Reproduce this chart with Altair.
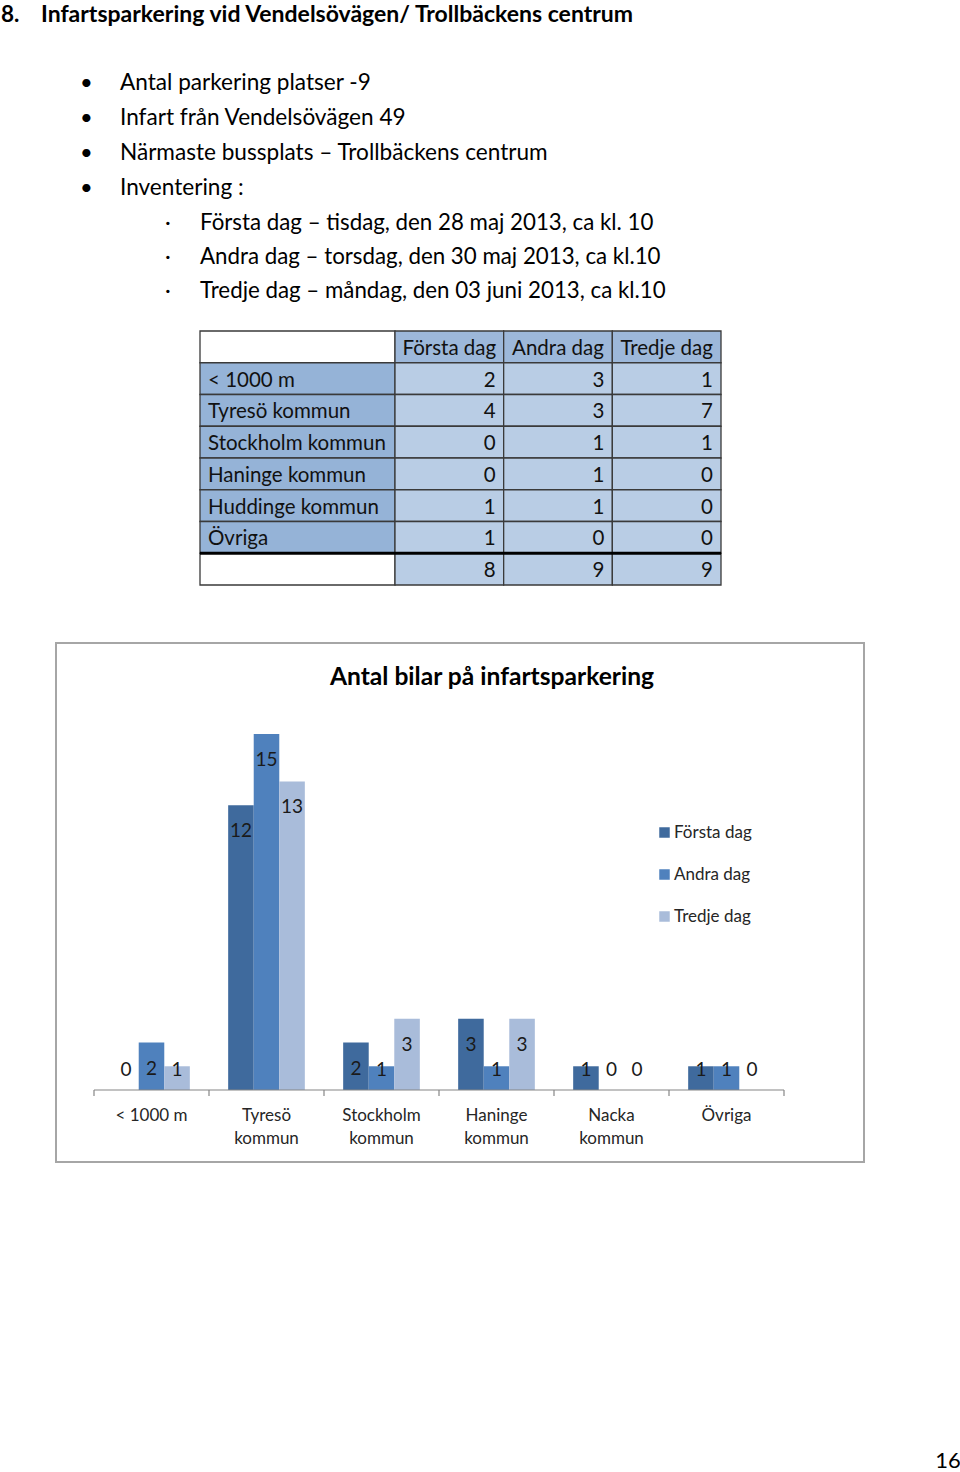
import altair as alt
import pandas as pd

FONT = "Lato"

# ---------------- data ----------------
heading_num = "8."
heading = "Infartsparkering vid Vendelsövägen/ Trollbäckens centrum"
bullets = [
    "Antal parkering platser -9",
    "Infart från Vendelsövägen 49",
    "Närmaste bussplats – Trollbäckens centrum",
    "Inventering :",
]
sub_bullets = [
    "Första dag – tisdag, den 28 maj 2013, ca kl. 10",
    "Andra dag – torsdag, den 30 maj 2013, ca kl.10",
    "Tredje dag – måndag, den 03 juni 2013, ca kl.10",
]

days = ["Första dag", "Andra dag", "Tredje dag"]
table_rows = ["< 1000 m", "Tyresö kommun", "Stockholm kommun",
              "Haninge kommun", "Huddinge kommun", "Övriga"]
table_forsta = [2, 4, 0, 0, 1, 1]
table_andra = [3, 3, 1, 1, 1, 0]
table_tredje = [1, 7, 1, 0, 0, 0]
table_totals = [8, 9, 9]

chart_title = "Antal bilar på infartsparkering"
categories = ["< 1000 m", "Tyresö kommun", "Stockholm kommun",
              "Haninge kommun", "Nacka kommun", "Övriga"]
category_labels = ["< 1000 m", "Tyresö\nkommun", "Stockholm\nkommun",
                   "Haninge\nkommun", "Nacka\nkommun", "Övriga"]
forsta = [0, 12, 2, 3, 1, 1]
andra = [2, 15, 1, 1, 0, 1]
tredje = [1, 13, 3, 3, 0, 0]
page_number = "16"

# ---------------- helpers ----------------
def text_at(s, x, y, size=22, weight="normal", align="left", color="#000000", baseline="middle"):
    return alt.Chart(pd.DataFrame({"t": [s]})).mark_text(
        align=align, baseline=baseline, font=FONT, fontSize=size,
        fontWeight=weight, color=color
    ).encode(x=alt.value(x), y=alt.value(y), text="t:N")

layers = []

# heading
layers.append(text_at(heading_num, 1, 22, size=22.5, weight="bold", baseline="alphabetic"))
layers.append(text_at(heading, 41, 22, size=23, weight="bold", baseline="alphabetic"))

# bullets
for i, b in enumerate(bullets):
    y = 82.5 + i * 35.3
    layers.append(text_at("•", 80, y, size=22))
    layers.append(text_at(b, 120, y, size=22.6))
for i, b in enumerate(sub_bullets):
    y = 222.5 + i * 34
    layers.append(text_at("·", 165, y, size=22))
    layers.append(text_at(b, 200, y, size=22.3))

# ---------------- table ----------------
row_keys = ["hdr"] + table_rows + ["tot"]
cols_vals = [table_forsta, table_andra, table_tredje]
cells = []
for j, d in enumerate(days):
    cells.append({"row": "hdr", "col": d, "kind": "head", "txt": d})
    for i, r in enumerate(table_rows):
        cells.append({"row": r, "col": d, "kind": "val", "txt": str(cols_vals[j][i])})
    cells.append({"row": "tot", "col": d, "kind": "tot", "txt": str(table_totals[j])})
cells_df = pd.DataFrame(cells)
labels_df = pd.DataFrame({
    "row": row_keys,
    "txt": [""] + table_rows + [""],
    "kind": ["blank"] + ["lab"] * len(table_rows) + ["blank"],
})

yscale_t = alt.Scale(domain=row_keys, range=[331, 585], paddingInner=0, paddingOuter=0)
xscale_t = alt.Scale(domain=days, range=[395, 721], paddingInner=0, paddingOuter=0)
kscale = alt.Scale(domain=["head", "val", "tot", "lab", "blank"],
                   range=["#9DB8DA", "#B9CDE5", "#B9CDE5", "#95B3D7", "#FFFFFF"])

TFS = 20.5
Yt = alt.Y("row:N", scale=yscale_t, axis=None)
label_rects = alt.Chart(labels_df).mark_rect(stroke="#3a3a3a", strokeWidth=1.3).encode(
    x=alt.value(200), x2=alt.value(395), y=Yt,
    color=alt.Color("kind:N", scale=kscale, legend=None))
label_texts = alt.Chart(labels_df).mark_text(
    align="left", baseline="middle", font=FONT, fontSize=TFS, color="#111111", dy=2
).encode(x=alt.value(208), y=Yt, text="txt:N")
value_rects = alt.Chart(cells_df).mark_rect(stroke="#3a3a3a", strokeWidth=1.3).encode(
    x=alt.X("col:N", scale=xscale_t, axis=None), y=Yt,
    color=alt.Color("kind:N", scale=kscale, legend=None))
head_texts = alt.Chart(cells_df).transform_filter(alt.datum.kind == "head").mark_text(
    align="center", baseline="middle", font=FONT, fontSize=TFS, color="#111111", dy=2
).encode(x=alt.X("col:N", scale=xscale_t, axis=None), y=Yt, text="txt:N")
value_texts = alt.Chart(cells_df).transform_filter(alt.datum.kind != "head").mark_text(
    align="right", baseline="middle", font=FONT, fontSize=TFS, color="#111111", dx=-8, dy=2
).encode(x=alt.X("col:N", scale=xscale_t, bandPosition=1, axis=None), y=Yt, text="txt:N")
thick = alt.Chart(pd.DataFrame({"row": ["tot"]})).mark_rule(color="#000000", strokeWidth=3).encode(
    y=alt.Y("row:N", scale=yscale_t, bandPosition=0, axis=None),
    x=alt.value(200), x2=alt.value(721))
table = alt.layer(label_rects, value_rects, label_texts, head_texts, value_texts, thick)
layers.append(table)

# ---------------- bar chart ----------------
frame = alt.Chart(pd.DataFrame({"a": [0]})).mark_rect(
    fill="#FFFFFF", stroke="#A6A6A6", strokeWidth=2
).encode(x=alt.value(56), x2=alt.value(864), y=alt.value(643), y2=alt.value(1162))
layers.append(frame)
layers.append(text_at(chart_title, 492, 678, size=24.6, weight="bold", align="center"))

bars_df = pd.DataFrame([
    {"cat": c, "series": s, "v": v}
    for s, vals in zip(days, [forsta, andra, tredje])
    for c, v in zip(categories, vals)
])
xs = alt.Scale(domain=categories, range=[94, 784], paddingInner=0, paddingOuter=0)
xo = alt.Scale(domain=days, paddingInner=0, paddingOuter=0.75)
ys = alt.Scale(domain=[0, 15], range=[1090, 734])
cs = alt.Scale(domain=days, range=["#3F6A9D", "#4F81BD", "#A9BCDA"])

X = alt.X("cat:N", scale=xs, axis=None)
XO = alt.XOffset("series:N", scale=xo)

bars = alt.Chart(bars_df).mark_bar().encode(
    x=X, xOffset=XO,
    y=alt.Y("v:Q", scale=ys, axis=None),
    color=alt.Color("series:N", scale=cs, legend=alt.Legend(
        title=None, orient="none", legendX=656, legendY=824, padding=0,
        symbolType="square", symbolSize=110, symbolStrokeWidth=0,
        labelFont=FONT, labelFontSize=17, labelColor="#262626",
        rowPadding=24, labelOffset=1)),
)
bar_labels = alt.Chart(bars_df).transform_calculate(
    ly="max(datum.v - 1.01, 0.93)"
).mark_text(font=FONT, fontSize=19, color="#1a1a1a", baseline="middle", dy=2).encode(
    x=X, xOffset=XO, y=alt.Y("ly:Q", scale=ys, axis=None), text="v:Q")

baseline = alt.Chart(pd.DataFrame({"v": [0]})).mark_rule(color="#868686", strokeWidth=1.2).encode(
    y=alt.Y("v:Q", scale=ys, axis=None), x=alt.value(94), x2=alt.value(784))
ticks_df = pd.DataFrame({"cat": categories})
ticks = alt.Chart(ticks_df).mark_rule(color="#868686", strokeWidth=1.2).encode(
    x=alt.X("cat:N", scale=xs, bandPosition=0, axis=None), y=alt.value(1090), y2=alt.value(1096))
last_tick = alt.Chart(pd.DataFrame({"cat": [categories[-1]]})).mark_rule(color="#868686", strokeWidth=1.2).encode(
    x=alt.X("cat:N", scale=xs, bandPosition=1, axis=None), y=alt.value(1090), y2=alt.value(1096))
cat_labels = alt.Chart(pd.DataFrame({"cat": categories, "label": category_labels})).mark_text(
    font=FONT, fontSize=17, color="#262626", baseline="top", lineBreak="\n", lineHeight=23
).encode(x=X, y=alt.value(1108), text="label:N")

bar_chart = alt.layer(bars, bar_labels, baseline, ticks, last_tick, cat_labels)
layers.append(bar_chart)

layers.append(text_at(page_number, 948, 1461, size=22, align="center"))

chart = alt.layer(*layers).resolve_scale(
    x="independent", y="independent", color="independent"
).properties(
    width=960, height=1472, padding=0, autosize="none", background="#FFFFFF"
).configure_view(stroke=None)

chart.save("out.html", embed_options={"renderer": "svg", "actions": False})
